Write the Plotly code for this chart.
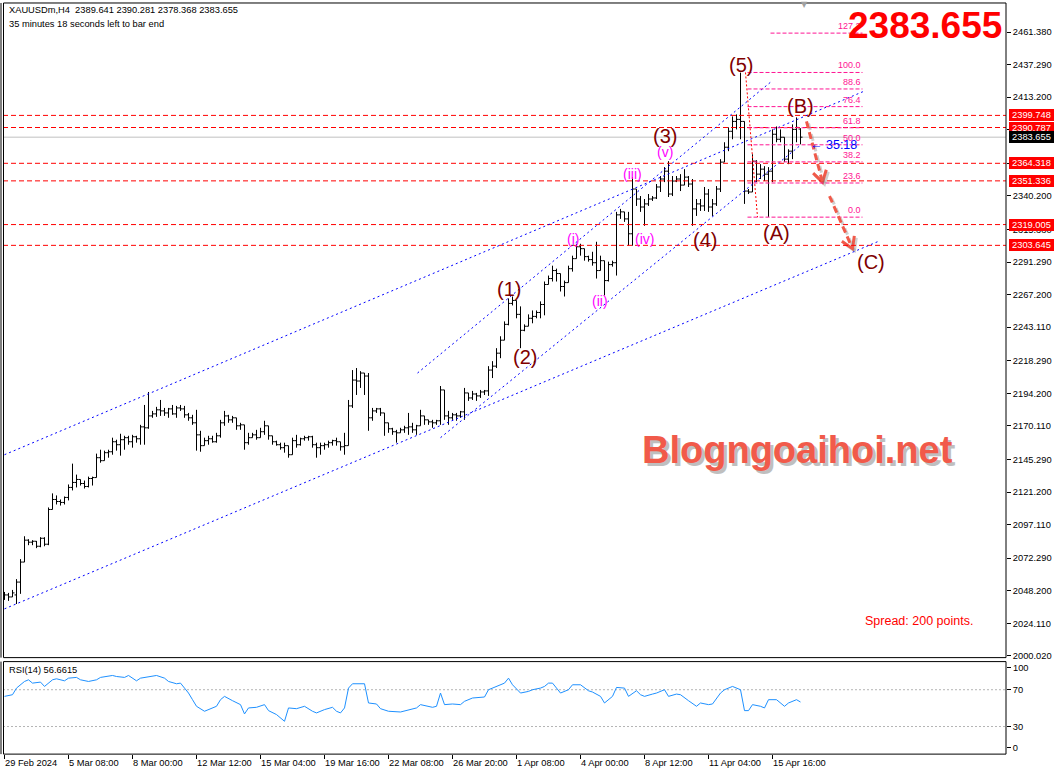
import math
import plotly.graph_objects as go

# ---------------- data ----------------
bar_open = [
 2043.6, 2045.1, 2043.6, 2045.1, 2054.6, 2069.4, 2085.6, 2084.1, 2084.8, 2081.1,
 2087.0, 2082.6, 2108.3, 2115.7, 2114.2, 2113.5, 2117.2, 2124.6, 2128.3, 2130.5,
 2127.5, 2125.3, 2131.2, 2131.9, 2146.6, 2144.4, 2150.3, 2151.0, 2158.4, 2156.2,
 2159.9, 2161.4, 2158.4, 2162.1, 2160.6, 2169.4, 2168.7, 2177.5, 2179.0, 2182.0,
 2181.2, 2179.7, 2182.7, 2179.0, 2183.4, 2182.7, 2178.3, 2176.1, 2172.4, 2163.5,
 2155.5, 2159.2, 2160.6, 2158.4, 2162.8, 2172.4, 2177.5, 2174.6, 2176.1, 2170.2,
 2170.9, 2157.7, 2161.4, 2163.5, 2161.4, 2165.8, 2170.2, 2162.8, 2158.4, 2156.2,
 2154.0, 2155.5, 2148.8, 2159.2, 2156.2, 2160.6, 2161.4, 2162.1, 2156.2, 2154.0,
 2155.5, 2156.2, 2157.7, 2159.2, 2158.4, 2154.7, 2155.5, 2184.9, 2204.0, 2203.3,
 2209.2, 2207.0, 2176.1, 2181.2, 2182.7, 2179.7, 2172.4, 2168.0, 2165.8, 2165.0,
 2167.2, 2168.7, 2169.4, 2167.2, 2170.2, 2177.5, 2174.6, 2173.1, 2172.4, 2173.9,
 2196.7, 2177.5, 2176.1, 2178.3, 2177.5, 2180.5, 2194.5, 2190.8, 2193.7, 2192.3,
 2195.2, 2196.0, 2211.4, 2214.3, 2223.9, 2233.5, 2245.2, 2260.7, 2262.9, 2252.6,
 2240.8, 2243.8, 2249.7, 2251.1, 2254.0, 2259.9, 2274.7, 2279.1, 2285.0, 2282.8,
 2273.2, 2276.1, 2286.4, 2293.8, 2302.6, 2301.2, 2295.3, 2293.1, 2290.8, 2285.0,
 2292.3, 2277.6, 2289.4, 2290.8, 2326.2, 2328.4, 2323.2, 2312.2, 2345.3, 2337.9,
 2332.0, 2334.3, 2337.9, 2338.7, 2346.8, 2352.7, 2358.5, 2341.6, 2351.2, 2352.7,
 2348.2, 2354.1, 2349.0, 2330.6, 2334.3, 2332.8, 2341.6, 2332.0, 2334.3, 2345.3,
 2365.2, 2376.2, 2388.0, 2395.3, 2396.8, 2395.3, 2343.8, 2343.1, 2365.9, 2356.3,
 2360.0, 2356.3, 2358.5, 2385.8, 2382.1, 2383.6, 2367.4, 2373.3, 2389.4, 2389.641]

bar_high = [
 2047.3, 2046.6, 2048.8, 2056.8, 2071.6, 2088.5, 2086.3, 2085.6, 2085.0, 2087.8,
 2087.8, 2109.8, 2120.2, 2118.7, 2115.7, 2117.9, 2126.8, 2142.2, 2134.1, 2130.5,
 2129.7, 2132.6, 2132.6, 2149.6, 2152.5, 2151.8, 2152.5, 2161.4, 2159.9, 2164.3,
 2162.8, 2162.8, 2163.5, 2162.8, 2170.9, 2185.6, 2195.2, 2181.2, 2184.2, 2189.3,
 2183.4, 2183.4, 2185.6, 2184.9, 2185.6, 2184.9, 2179.7, 2178.3, 2182.0, 2166.5,
 2161.4, 2162.8, 2162.8, 2165.0, 2174.6, 2181.2, 2178.3, 2177.5, 2176.1, 2172.4,
 2170.9, 2165.0, 2165.0, 2167.2, 2168.7, 2173.9, 2170.2, 2162.8, 2159.2, 2157.7,
 2157.7, 2155.5, 2161.4, 2163.5, 2161.4, 2162.8, 2162.8, 2162.8, 2157.7, 2157.7,
 2157.7, 2159.2, 2159.9, 2161.4, 2158.4, 2165.0, 2189.3, 2211.4, 2212.9, 2210.6,
 2209.2, 2209.2, 2183.4, 2183.4, 2183.4, 2179.7, 2172.4, 2168.7, 2167.2, 2168.7,
 2170.2, 2179.7, 2172.4, 2170.9, 2182.0, 2177.5, 2174.6, 2174.6, 2174.6, 2199.6,
 2196.7, 2181.2, 2179.7, 2179.7, 2181.2, 2198.2, 2194.5, 2196.0, 2194.5, 2196.7,
 2196.7, 2214.3, 2218.0, 2227.6, 2236.4, 2247.4, 2264.4, 2265.8, 2262.9, 2258.5,
 2245.2, 2252.6, 2255.5, 2255.5, 2262.2, 2276.9, 2281.3, 2288.6, 2286.4, 2282.8,
 2277.6, 2288.6, 2296.0, 2304.8, 2304.8, 2301.2, 2296.0, 2298.9, 2306.3, 2296.0,
 2292.3, 2291.6, 2292.3, 2328.4, 2330.6, 2328.4, 2328.4, 2354.1, 2345.3, 2340.1,
 2337.9, 2341.6, 2340.1, 2349.0, 2354.9, 2361.5, 2365.9, 2354.9, 2354.9, 2356.3,
 2360.0, 2354.9, 2352.7, 2337.9, 2337.9, 2346.8, 2345.3, 2337.9, 2347.5, 2367.4,
 2379.9, 2390.9, 2399.0, 2400.5, 2431.4, 2395.3, 2345.3, 2371.0, 2366.6, 2363.7,
 2362.2, 2361.5, 2389.4, 2391.6, 2389.4, 2383.6, 2374.7, 2393.1, 2398.3, 2390.281]

bar_low = [
 2041.4, 2040.7, 2043.6, 2038.4, 2045.9, 2069.4, 2081.9, 2081.9, 2079.7, 2080.4,
 2081.1, 2081.9, 2108.3, 2112.0, 2111.2, 2112.0, 2115.0, 2122.4, 2124.6, 2126.0,
 2123.8, 2124.6, 2126.0, 2131.9, 2142.9, 2144.4, 2146.6, 2148.8, 2151.8, 2148.1,
 2152.5, 2156.2, 2154.0, 2157.7, 2156.2, 2156.2, 2168.0, 2176.1, 2176.8, 2177.5,
 2177.5, 2176.1, 2178.3, 2176.1, 2181.2, 2176.1, 2173.9, 2170.9, 2151.8, 2151.0,
 2155.5, 2156.2, 2157.7, 2157.7, 2161.4, 2170.2, 2172.4, 2172.4, 2167.2, 2167.2,
 2152.5, 2156.2, 2161.4, 2159.9, 2161.4, 2163.5, 2159.9, 2156.2, 2155.5, 2152.5,
 2150.3, 2146.6, 2148.8, 2154.0, 2155.5, 2159.2, 2159.2, 2154.0, 2146.6, 2148.8,
 2152.5, 2154.0, 2155.5, 2155.5, 2151.8, 2148.8, 2155.5, 2183.4, 2193.0, 2198.2,
 2193.0, 2166.5, 2173.9, 2179.7, 2177.5, 2162.8, 2165.0, 2163.5, 2157.7, 2165.0,
 2165.0, 2163.5, 2165.0, 2163.5, 2170.2, 2170.9, 2170.9, 2168.7, 2170.9, 2170.9,
 2174.6, 2170.9, 2174.6, 2173.9, 2176.1, 2174.6, 2188.6, 2189.3, 2188.6, 2190.8,
 2193.0, 2192.3, 2205.5, 2212.9, 2220.2, 2233.5, 2244.5, 2259.2, 2249.7, 2227.6,
 2240.1, 2243.8, 2246.0, 2249.7, 2249.7, 2251.9, 2274.7, 2276.9, 2276.9, 2269.5,
 2265.8, 2276.1, 2284.2, 2293.8, 2296.0, 2292.3, 2291.6, 2288.6, 2279.1, 2285.0,
 2266.6, 2276.9, 2287.9, 2281.3, 2323.2, 2321.0, 2303.4, 2303.4, 2332.8, 2328.4,
 2318.1, 2332.8, 2336.5, 2337.9, 2343.1, 2350.4, 2339.4, 2340.1, 2350.4, 2343.8,
 2348.2, 2346.8, 2318.1, 2325.4, 2329.1, 2329.1, 2328.4, 2325.4, 2332.8, 2343.1,
 2365.2, 2373.3, 2382.1, 2389.4, 2382.1, 2334.3, 2341.6, 2343.1, 2350.4, 2352.7,
 2351.2, 2324.7, 2350.4, 2379.9, 2379.9, 2365.2, 2363.7, 2367.4, 2379.9, 2378.368]

bar_close = [
 2045.1, 2043.6, 2046.6, 2054.6, 2069.4, 2085.6, 2084.1, 2084.8, 2081.1, 2087.0,
 2082.6, 2108.3, 2115.7, 2114.2, 2113.5, 2117.2, 2124.6, 2128.3, 2130.5, 2127.5,
 2125.3, 2131.2, 2131.9, 2146.6, 2144.4, 2150.3, 2151.0, 2158.4, 2156.2, 2159.9,
 2161.4, 2158.4, 2162.1, 2160.6, 2169.4, 2168.7, 2177.5, 2179.0, 2182.0, 2181.2,
 2179.7, 2182.7, 2179.0, 2183.4, 2182.7, 2178.3, 2176.1, 2172.4, 2163.5, 2155.5,
 2159.2, 2160.6, 2158.4, 2162.8, 2172.4, 2177.5, 2174.6, 2176.1, 2170.2, 2170.9,
 2157.7, 2161.4, 2163.5, 2161.4, 2165.8, 2170.2, 2162.8, 2158.4, 2156.2, 2154.0,
 2155.5, 2148.8, 2159.2, 2156.2, 2160.6, 2161.4, 2162.1, 2156.2, 2154.0, 2155.5,
 2156.2, 2157.7, 2159.2, 2158.4, 2154.7, 2155.5, 2184.9, 2204.0, 2203.3, 2209.2,
 2207.0, 2176.1, 2181.2, 2182.7, 2179.7, 2172.4, 2168.0, 2165.8, 2165.0, 2167.2,
 2168.7, 2169.4, 2167.2, 2170.2, 2177.5, 2174.6, 2173.1, 2172.4, 2173.9, 2196.7,
 2177.5, 2176.1, 2178.3, 2177.5, 2180.5, 2194.5, 2190.8, 2193.7, 2192.3, 2195.2,
 2196.0, 2211.4, 2214.3, 2223.9, 2233.5, 2245.2, 2260.7, 2262.9, 2252.6, 2240.8,
 2243.8, 2249.7, 2251.1, 2254.0, 2259.9, 2274.7, 2279.1, 2285.0, 2282.8, 2273.2,
 2276.1, 2286.4, 2293.8, 2302.6, 2301.2, 2295.3, 2293.1, 2290.8, 2285.0, 2292.3,
 2277.6, 2289.4, 2290.8, 2326.2, 2328.4, 2323.2, 2312.2, 2345.3, 2337.9, 2332.0,
 2334.3, 2337.9, 2338.7, 2346.8, 2352.7, 2358.5, 2341.6, 2351.2, 2352.7, 2348.2,
 2354.1, 2349.0, 2330.6, 2334.3, 2332.8, 2341.6, 2332.0, 2334.3, 2345.3, 2365.2,
 2376.2, 2388.0, 2395.3, 2396.8, 2395.3, 2343.8, 2343.1, 2365.9, 2356.3, 2360.0,
 2356.3, 2358.5, 2385.8, 2382.1, 2383.6, 2367.4, 2373.3, 2389.4, 2390.9, 2383.655]

bar_index = list(range(len(bar_close)))

# RSI(14) readings (bar index, value)
rsi_bar = [0, 2, 3, 5, 6, 7, 9, 10, 12, 13, 15, 16, 18, 19, 21, 23, 24, 27, 28, 30,
           31, 33, 34, 36, 38, 40, 41, 43, 44, 45, 46, 47, 48, 50, 51, 53, 54, 55, 57, 59,
           60, 61, 63, 65, 66, 68, 70, 71, 73, 75, 77, 78, 80, 82, 83, 84, 85, 86, 87, 90,
           91, 93, 94, 96, 99, 101, 103, 104, 107, 108, 109, 110, 112, 114, 115, 117, 120, 121, 123, 125,
           126, 127, 129, 131, 132, 134, 135, 136, 137, 139, 141, 142, 144, 146, 147, 149, 150, 152, 153, 155,
           156, 158, 159, 160, 162, 163, 165, 166, 168, 169, 171, 173, 174, 176, 177, 179, 180, 182, 184, 185,
           186, 187, 189, 190, 191, 193, 195, 196, 198, 199]
rsi_val = [62.8, 64.6, 71.8, 79.0, 80.8, 77.2, 78.3, 73.6, 80.8, 81.9, 79.7, 82.6, 83.4, 80.8, 79.0, 80.8, 83.4, 85.5, 84.4, 83.4,
           85.5, 79.7, 82.6, 84.4, 85.5, 82.6, 79.0, 76.5, 77.2, 71.8, 66.4, 59.2, 52.0, 46.6, 48.4, 52.0, 59.2, 62.8, 58.1, 53.8,
           43.7, 50.2, 50.9, 53.8, 47.3, 43.0, 35.7, 50.2, 49.4, 52.0, 46.6, 44.8, 48.4, 50.9, 46.6, 44.8, 50.2, 71.8, 76.5, 76.5,
           55.6, 54.5, 49.4, 46.6, 45.8, 48.4, 50.2, 53.8, 50.9, 52.0, 66.4, 53.8, 54.5, 53.8, 57.4, 61.0, 62.1, 70.0, 73.6, 77.2,
           82.6, 75.4, 66.4, 68.2, 70.0, 71.8, 73.6, 77.2, 77.2, 66.4, 70.0, 75.4, 75.4, 68.9, 67.5, 62.8, 55.6, 62.8, 72.5, 71.8,
           62.8, 68.9, 64.6, 62.8, 65.3, 66.4, 70.0, 62.8, 65.3, 64.6, 58.1, 52.0, 55.6, 53.8, 54.5, 66.4, 70.0, 73.6, 70.0, 47.3,
           47.3, 53.8, 52.0, 50.2, 59.2, 59.2, 52.0, 55.6, 59.2, 56.6615]

date_tick_bars = [0, 16, 32, 48, 64, 80, 96, 112, 128, 144, 160, 176, 192]
date_tick_text = ['29 Feb 2024', '5 Mar 08:00', '8 Mar 00:00', '12 Mar 12:00', '15 Mar 04:00',
                  '19 Mar 16:00', '22 Mar 08:00', '26 Mar 20:00', '1 Apr 08:00', '4 Apr 00:00',
                  '8 Apr 12:00', '11 Apr 04:00', '15 Apr 16:00']

price_ticks = [2461.38, 2437.29, 2413.20, 2389.11, 2364.29, 2340.20, 2315.38, 2291.29, 2267.20,
               2243.11, 2218.29, 2194.20, 2170.11, 2145.29, 2121.20, 2097.11, 2072.29, 2048.20,
               2024.11, 2000.02]
price_tick_text = ['%.3f' % v for v in price_ticks]

rsi_tick_vals = [94.5, 70, 30, 6.8]
rsi_tick_text = ['', '70', '30', '0']
rsi_top_label = '100'

sr_levels = [2399.748, 2390.787, 2364.318, 2351.336, 2319.005, 2303.645]
last_price = 2383.655

fib_high = 2431.5
fib_low = 2324.5
fib_ratios = [0.0, 23.6, 38.2, 50.0, 61.8, 76.4, 88.6, 100.0, 127.2]

# trend lines: (bar, price) anchors
trend_lines = [
    [(0, 2148.8), (215.25, 2418.1)],
    [(0, 2034.8), (218.25, 2306.3)],
    [(103.25, 2209.2), (192, 2425.5)],
    [(109, 2161.4), (199, 2377.7)],
]

wave_labels = [('(5)', 184, 2437.3), ('(B)', 199, 2406.4), ('(3)', 165, 2384.3), ('(4)', 175, 2307.8),
               ('(A)', 193, 2312.9), ('(1)', 126, 2271.7), ('(2)', 130, 2220.9), ('(C)', 216.5, 2291.6)]
sub_labels = [('(v)', 165, 2372.5), ('(iii)', 157, 2356.3), ('(i)', 142, 2308.5),
              ('(iv)', 160, 2308.5), ('(ii)', 148.75, 2262.2)]

arrows = [[(200.5, 2395.3), (204.5, 2350.4)], [(206.25, 2340.1), (212, 2301.2)]]

# ---------------- geometry ----------------
W, H = 1058, 781
PX_L, PX_R = 3.0, 1006.0
MAIN_T, MAIN_B = 3.0, 661.0
RSI_T, RSI_B = 665.0, 758.0
X_RANGE = [-0.375, 250.375]
Y_RANGE = [1998.74, 2482.89]
RSI_RANGE = [0, 100.6]

def px(x):
    return x / W

def py(y):
    return 1 - y / H

ppx = (PX_R - PX_L) / (X_RANGE[1] - X_RANGE[0])
ppy = (MAIN_B - MAIN_T) / (Y_RANGE[1] - Y_RANGE[0])

SYS_FONT = 'Liberation Sans, Arial, sans-serif'

fig = go.Figure()

fig.add_trace(go.Ohlc(
    x=bar_index, open=bar_open, high=bar_high, low=bar_low, close=bar_close,
    increasing=dict(line=dict(color='black', width=1)),
    decreasing=dict(line=dict(color='black', width=1)),
    tickwidth=0.5, showlegend=False, hoverinfo='skip', xaxis='x', yaxis='y'))

fig.add_trace(go.Scatter(
    x=rsi_bar, y=rsi_val, mode='lines', line=dict(color='#1E90FF', width=1),
    showlegend=False, hoverinfo='skip', xaxis='x2', yaxis='y2'))

shapes = []
annotations = []

# current price line
shapes.append(dict(type='line', xref='x domain', x0=0, x1=1, yref='y', y0=last_price, y1=last_price,
                   line=dict(color='#C0C0C0', width=1), layer='below'))

# support/resistance lines
for lv in sr_levels:
    shapes.append(dict(type='line', xref='x domain', x0=0, x1=1, yref='y', y0=lv, y1=lv,
                       line=dict(color='#FF0000', width=1, dash='5px,3px'), layer='above'))

# trend lines
for (a, b) in trend_lines:
    shapes.append(dict(type='line', xref='x', yref='y', x0=a[0], y0=a[1], x1=b[0], y1=b[1],
                       line=dict(color='#0000FF', width=1, dash='2px,3px'), layer='above'))

# fibonacci
fib_x0, fib_x1 = 185.75, 214.5
for r in fib_ratios:
    lv = fib_low + (fib_high - fib_low) * r / 100.0
    x0 = fib_x0 if r != 127.2 else 191.5
    shapes.append(dict(type='line', xref='x', yref='y', x0=x0, x1=fib_x1, y0=lv, y1=lv,
                       line=dict(color='#FF1493', width=1, dash='4px,2px'), layer='above'))
    annotations.append(dict(x=fib_x1, y=lv, xref='x', yref='y', text='%.1f' % r, showarrow=False,
                            xanchor='right', yanchor='bottom', yshift=0,
                            font=dict(family=SYS_FONT, size=9, color='#FF1493')))
shapes.append(dict(type='line', xref='x', yref='y', x0=185.25, y0=fib_high, x1=188.25, y1=fib_low,
                   line=dict(color='#FF0000', width=1, dash='2px,2px'), layer='above'))

# red forecast arrows
def head(p0, p1, L=13, ang=0.55):
    dx = (p1[0] - p0[0]) * ppx
    dy = -(p1[1] - p0[1]) * ppy
    a = math.atan2(dy, dx)
    xs, ys = [], []
    for s in (1, 0, -1):
        if s == 0:
            xs.append(p1[0]); ys.append(p1[1])
        else:
            wx = L * math.cos(a + math.pi + s * ang)
            wy = L * math.sin(a + math.pi + s * ang)
            xs.append(p1[0] + wx / ppx)
            ys.append(p1[1] - wy / ppy)
    return xs, ys

for (p0, p1) in arrows:
    sx, sy = 2 / ppx, -2 / ppy
    shapes.append(dict(type='line', xref='x', yref='y', x0=p0[0] + sx, y0=p0[1] + sy, x1=p1[0] + sx, y1=p1[1] + sy,
                       line=dict(color='rgba(120,120,120,0.35)', width=3, dash='7px,4px'), layer='above'))
    shapes.append(dict(type='line', xref='x', yref='y', x0=p0[0], y0=p0[1], x1=p1[0], y1=p1[1],
                       line=dict(color='#F05A4A', width=3, dash='7px,4px'), layer='above'))
    hx, hy = head(p0, p1)
    fig.add_trace(go.Scatter(x=[v + sx for v in hx], y=[v + sy for v in hy], mode='lines',
                             line=dict(color='rgba(120,120,120,0.35)', width=3),
                             showlegend=False, hoverinfo='skip', xaxis='x', yaxis='y'))
    fig.add_trace(go.Scatter(x=hx, y=hy, mode='lines', line=dict(color='#F05A4A', width=3),
                             showlegend=False, hoverinfo='skip', xaxis='x', yaxis='y'))

# wave labels
for t, xb, yp in wave_labels:
    annotations.append(dict(x=xb, y=yp, xref='x', yref='y', text=t, showarrow=False,
                            font=dict(family='Liberation Sans, Arial', size=20, color='#800000')))
for t, xb, yp in sub_labels:
    annotations.append(dict(x=xb, y=yp, xref='x', yref='y', text=t, showarrow=False,
                            font=dict(family='Liberation Sans, Arial', size=14, color='#FF00FF')))

# countdown
annotations.append(dict(x=px(808), y=py(145.5), xref='paper', yref='paper', text='\u2190 35:18',
                        showarrow=False, xanchor='left', yanchor='middle',
                        font=dict(family=SYS_FONT, size=12.5, color='#0000FF')))

# price axis labels (boxes)
for lv in sr_levels:
    annotations.append(dict(x=px(1008.5), y=lv, xref='paper', yref='y', text=('%.3f' % lv),
                            showarrow=False, xanchor='left', yanchor='middle', bgcolor='#FF0000',
                            width=43, height=10, borderpad=1, borderwidth=0,
                            font=dict(family=SYS_FONT, size=9.3, color='white')))
annotations.append(dict(x=px(1008.5), y=last_price, xref='paper', yref='y', text='%.3f' % last_price,
                        showarrow=False, xanchor='left', yanchor='middle', bgcolor='#000000',
                        width=43, height=10, borderpad=1, borderwidth=0,
                        font=dict(family=SYS_FONT, size=9.3, color='white')))

# RSI top label
annotations.append(dict(x=px(1011), y=py(671), xref='paper', yref='paper', text=rsi_top_label,
                        showarrow=False, xanchor='left', yanchor='middle',
                        font=dict(family=SYS_FONT, size=9.3, color='#000000')))

# header texts
annotations.append(dict(x=px(7), y=py(10), xref='paper', yref='paper',
                        text='XAUUSDm,H4  2389.641 2390.281 2378.368 2383.655',
                        showarrow=False, xanchor='left', yanchor='middle',
                        font=dict(family=SYS_FONT, size=9.3, color='black')))
annotations.append(dict(x=px(7), y=py(24), xref='paper', yref='paper',
                        text='35 minutes 18 seconds left to bar end',
                        showarrow=False, xanchor='left', yanchor='middle',
                        font=dict(family=SYS_FONT, size=9.3, color='black')))
annotations.append(dict(x=px(7), y=py(673), xref='paper', yref='paper',
                        text='RSI(14) 56.6615', showarrow=False, xanchor='left', yanchor='middle',
                        font=dict(family=SYS_FONT, size=9.3, color='black')))

# big price
annotations.append(dict(x=px(1004), y=py(26), xref='paper', yref='paper', text='<b>2383.655</b>',
                        showarrow=False, xanchor='right', yanchor='middle',
                        font=dict(family='Liberation Sans, Arial', size=37, color='#FF0000')))

# spread
annotations.append(dict(x=px(863), y=py(624), xref='paper', yref='paper', text='Spread: 200 points.',
                        showarrow=False, xanchor='left', yanchor='middle',
                        font=dict(family=SYS_FONT, size=12.5, color='#FF0000')))

# watermark with shadow
annotations.append(dict(x=px(800), y=py(455), xref='paper', yref='paper', text='<b>Blogngoaihoi.net</b>',
                        showarrow=False, xanchor='center', yanchor='middle', opacity=0.55,
                        font=dict(family='Liberation Sans, Arial', size=38, color='#8C8C8C')))
annotations.append(dict(x=px(797), y=py(452), xref='paper', yref='paper', text='<b>Blogngoaihoi.net</b>',
                        showarrow=False, xanchor='center', yanchor='middle',
                        font=dict(family='Liberation Sans, Arial', size=38, color='#F15A4A')))

# chart shift marker
annotations.append(dict(x=px(804), y=py(5), xref='paper', yref='paper', text='\u25BC',
                        showarrow=False, xanchor='center', yanchor='middle',
                        font=dict(family='DejaVu Sans', size=8, color='#A0A0A0')))

# RSI levels
for lv in (70, 30):
    shapes.append(dict(type='line', xref='x2 domain', x0=0, x1=1, yref='y2', y0=lv, y1=lv,
                       line=dict(color='#B4B4B4', width=1, dash='2px,2px'), layer='below'))

# pane frames
for (t, b) in ((MAIN_T, MAIN_B), (RSI_T, RSI_B)):
    shapes.append(dict(type='rect', xref='paper', yref='paper', x0=px(PX_L + 0.5), x1=px(PX_R),
                       y0=py(b), y1=py(t), line=dict(color='black', width=1), layer='above'))
    shapes.append(dict(type='line', xref='paper', yref='paper', x0=px(1), x1=px(1),
                       y0=py(b), y1=py(t), line=dict(color='black', width=1), layer='above'))

fig.update_layout(
    width=W, height=H, autosize=False,
    margin=dict(l=0, r=0, t=0, b=0),
    paper_bgcolor='white', plot_bgcolor='white',
    showlegend=False,
    shapes=shapes, annotations=annotations,
    xaxis=dict(domain=[px(PX_L), px(PX_R)], range=X_RANGE, showgrid=False, zeroline=False,
               showticklabels=False, ticks='', showline=False, rangeslider=dict(visible=False),
               anchor='y', fixedrange=True),
    yaxis=dict(domain=[py(MAIN_B), py(MAIN_T)], range=Y_RANGE, side='right', anchor='x',
               showgrid=False, zeroline=False, tickvals=price_ticks, ticktext=price_tick_text,
               ticks='outside', ticklen=4, tickcolor='black', showline=False,
               tickfont=dict(family=SYS_FONT, size=9.3, color='black')),
    xaxis2=dict(domain=[px(PX_L), px(PX_R)], range=X_RANGE, anchor='y2', showgrid=False,
                zeroline=False, tickvals=date_tick_bars, ticktext=date_tick_text,
                ticks='outside', ticklen=4, tickcolor='black', ticklabelposition='outside right',
                tickfont=dict(family=SYS_FONT, size=9.3, color='black'), showline=False),
    yaxis2=dict(domain=[py(RSI_B), py(RSI_T)], range=RSI_RANGE, side='right', anchor='x2',
                showgrid=False, zeroline=False, tickvals=rsi_tick_vals, ticktext=rsi_tick_text,
                ticks='outside', ticklen=4, tickcolor='black', showline=False,
                tickfont=dict(family=SYS_FONT, size=9.3, color='black')),
)

fig.write_html('out.html', config={'displayModeBar': False, 'staticPlot': True},
               post_script=("document.documentElement.style.margin='0px';"
                            "document.documentElement.style.padding='0px';"
                            "document.documentElement.style.overflow='hidden';"
                            "document.body.style.margin='0px';document.body.style.padding='0px';"
                            "document.body.style.overflow='hidden';"))
